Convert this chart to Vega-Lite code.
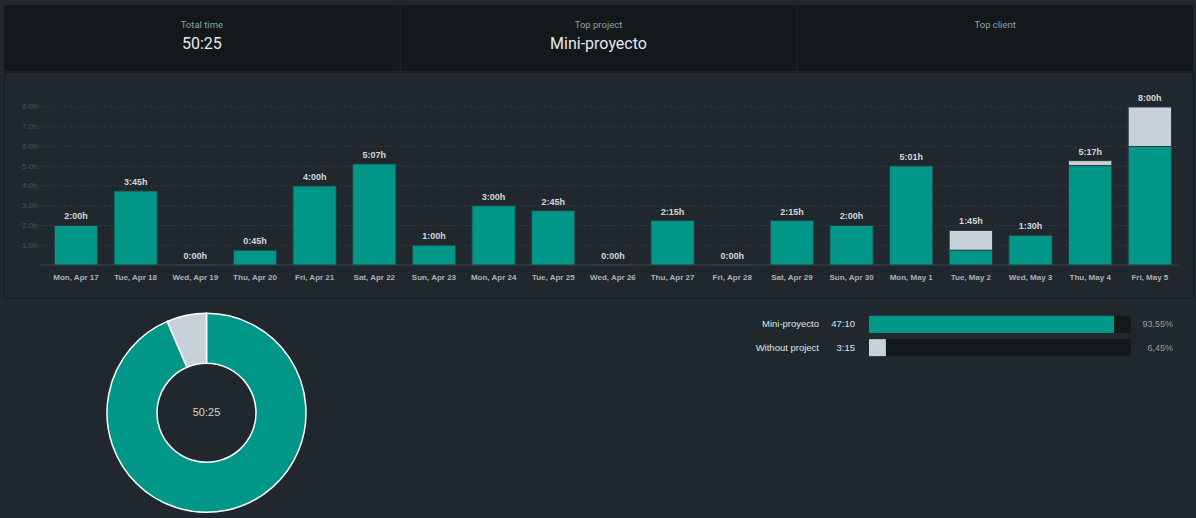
{
  "$schema": "https://vega.github.io/schema/vega-lite/v6.json",
  "background": "#21282d",
  "padding": {"left": 3, "top": 5, "right": 4, "bottom": 0},
  "bounds": "flush",
  "spacing": 1,
  "config": {"view": {"stroke": null}, "font": "Liberation Sans"},
  "datasets": {
    "daily": [
      {"day": "Mon, Apr 17", "project": "Mini-proyecto", "hours": 2.0},
      {"day": "Tue, Apr 18", "project": "Mini-proyecto", "hours": 3.75},
      {"day": "Wed, Apr 19", "project": "Mini-proyecto", "hours": 0},
      {"day": "Thu, Apr 20", "project": "Mini-proyecto", "hours": 0.75},
      {"day": "Fri, Apr 21", "project": "Mini-proyecto", "hours": 4.0},
      {"day": "Sat, Apr 22", "project": "Mini-proyecto", "hours": 5.1167},
      {"day": "Sun, Apr 23", "project": "Mini-proyecto", "hours": 1.0},
      {"day": "Mon, Apr 24", "project": "Mini-proyecto", "hours": 3.0},
      {"day": "Tue, Apr 25", "project": "Mini-proyecto", "hours": 2.75},
      {"day": "Wed, Apr 26", "project": "Mini-proyecto", "hours": 0},
      {"day": "Thu, Apr 27", "project": "Mini-proyecto", "hours": 2.25},
      {"day": "Fri, Apr 28", "project": "Mini-proyecto", "hours": 0},
      {"day": "Sat, Apr 29", "project": "Mini-proyecto", "hours": 2.25},
      {"day": "Sun, Apr 30", "project": "Mini-proyecto", "hours": 2.0},
      {"day": "Mon, May 1", "project": "Mini-proyecto", "hours": 5.0167},
      {"day": "Tue, May 2", "project": "Mini-proyecto", "hours": 0.75},
      {"day": "Tue, May 2", "project": "Without project", "hours": 1.0},
      {"day": "Wed, May 3", "project": "Mini-proyecto", "hours": 1.5},
      {"day": "Thu, May 4", "project": "Mini-proyecto", "hours": 5.0333},
      {"day": "Thu, May 4", "project": "Without project", "hours": 0.25},
      {"day": "Fri, May 5", "project": "Mini-proyecto", "hours": 6.0},
      {"day": "Fri, May 5", "project": "Without project", "hours": 2.0}
    ],
    "totals": [
      {"day": "Mon, Apr 17", "hours": 2.0, "label": "2:00h"},
      {"day": "Tue, Apr 18", "hours": 3.75, "label": "3:45h"},
      {"day": "Wed, Apr 19", "hours": 0, "label": "0:00h"},
      {"day": "Thu, Apr 20", "hours": 0.75, "label": "0:45h"},
      {"day": "Fri, Apr 21", "hours": 4.0, "label": "4:00h"},
      {"day": "Sat, Apr 22", "hours": 5.1167, "label": "5:07h"},
      {"day": "Sun, Apr 23", "hours": 1.0, "label": "1:00h"},
      {"day": "Mon, Apr 24", "hours": 3.0, "label": "3:00h"},
      {"day": "Tue, Apr 25", "hours": 2.75, "label": "2:45h"},
      {"day": "Wed, Apr 26", "hours": 0, "label": "0:00h"},
      {"day": "Thu, Apr 27", "hours": 2.25, "label": "2:15h"},
      {"day": "Fri, Apr 28", "hours": 0, "label": "0:00h"},
      {"day": "Sat, Apr 29", "hours": 2.25, "label": "2:15h"},
      {"day": "Sun, Apr 30", "hours": 2.0, "label": "2:00h"},
      {"day": "Mon, May 1", "hours": 5.0167, "label": "5:01h"},
      {"day": "Tue, May 2", "hours": 1.75, "label": "1:45h"},
      {"day": "Wed, May 3", "hours": 1.5, "label": "1:30h"},
      {"day": "Thu, May 4", "hours": 5.2833, "label": "5:17h"},
      {"day": "Fri, May 5", "hours": 8.0, "label": "8:00h"}
    ],
    "gridlines": [
      {"hours": 1}, {"hours": 2}, {"hours": 3}, {"hours": 4},
      {"hours": 5}, {"hours": 6}, {"hours": 7}, {"hours": 8}
    ],
    "projects": [
      {"project": "Mini-proyecto", "hours": 47.1667, "time": "47:10", "pct": 93.55, "pct_label": "93,55%"},
      {"project": "Without project", "hours": 3.25, "time": "3:15", "pct": 6.45, "pct_label": "6,45%"}
    ],
    "summary": [
      {"panel": "Total time", "value": "50:25"},
      {"panel": "Top project", "value": "Mini-proyecto"},
      {"panel": "Top client", "value": ""}
    ]
  },
  "vconcat": [
    {
      "width": 1189, "height": 66,
      "data": {"name": "summary"},
      "encoding": {
        "x": {"field": "panel", "type": "nominal", "sort": null, "axis": null, "scale": {"paddingInner": 0.00252, "paddingOuter": 0}}
      },
      "layer": [
        {"mark": {"type": "bar", "color": "#13181b"}},
        {"mark": {"type": "text", "dy": -13, "fontSize": 9.5, "color": "#8da2ac", "font": "Roboto"}, "encoding": {"text": {"field": "panel"}}},
        {"mark": {"type": "text", "dy": 5.5, "fontSize": 16, "color": "#e4e9ec", "font": "Roboto"}, "encoding": {"text": {"field": "value"}}}
      ]
    },
    {
      "width": 1189, "height": 226,
      "view": {"fill": null, "stroke": "#161b1e", "strokeWidth": 1},
      "encoding": {
        "x": {
          "field": "day", "type": "nominal", "title": null,
          "scale": {
            "domain": ["Mon, Apr 17", "Tue, Apr 18", "Wed, Apr 19", "Thu, Apr 20", "Fri, Apr 21", "Sat, Apr 22", "Sun, Apr 23", "Mon, Apr 24", "Tue, Apr 25", "Wed, Apr 26", "Thu, Apr 27", "Fri, Apr 28", "Sat, Apr 29", "Sun, Apr 30", "Mon, May 1", "Tue, May 2", "Wed, May 3", "Thu, May 4", "Fri, May 5"],
            "range": [50.35, 1167.5], "paddingInner": 0.274, "paddingOuter": 0
          },
          "axis": {"orient": "bottom", "offset": -33, "domain": false, "ticks": false, "labelPadding": 8, "labelAngle": 0, "labelFontSize": 8, "labelFontWeight": "bold", "labelColor": "#aab2b7", "labelFont": "Liberation Sans"}
        },
        "y": {
          "field": "hours", "type": "quantitative", "title": null,
          "scale": {"domain": [-1.671, 9.772], "nice": false, "zero": false},
          "axis": {"orient": "left", "offset": -35, "values": [1, 2, 3, 4, 5, 6, 7, 8], "labelExpr": "format(datum.value, '.1f') + 'h'", "domain": false, "ticks": false, "grid": false, "labelPadding": 2, "labelFontSize": 8, "labelColor": "#4a555b", "labelFont": "Liberation Sans"}
        }
      },
      "layer": [
        {
          "data": {"name": "gridlines"},
          "mark": {"type": "rule", "color": "#2e393f", "strokeDash": [3, 2], "strokeWidth": 1},
          "encoding": {
            "x": {"datum": "Mon, Apr 17", "bandPosition": -0.3545},
            "x2": {"datum": "Fri, May 5", "bandPosition": 1.173}
          }
        },
        {
          "data": {"values": [{"hours": 0}]},
          "mark": {"type": "rule", "color": "#39454c", "strokeWidth": 1},
          "encoding": {
            "x": {"datum": "Mon, Apr 17", "bandPosition": -0.3545},
            "x2": {"datum": "Fri, May 5", "bandPosition": 1.173}
          }
        },
        {
          "data": {"name": "daily"},
          "mark": {"type": "bar", "stroke": "#2c3a40", "strokeWidth": 1},
          "encoding": {
            "color": {"field": "project", "type": "nominal", "legend": null, "scale": {"domain": ["Mini-proyecto", "Without project"], "range": ["#009688", "#c6d1d9"]}},
            "order": {"field": "project", "type": "ordinal", "sort": "ascending"}
          }
        },
        {
          "data": {"name": "totals"},
          "mark": {"type": "text", "dy": -9, "fontSize": 9, "fontWeight": "bold", "color": "#d2d8db", "font": "Liberation Sans"},
          "encoding": {"text": {"field": "label"}}
        }
      ]
    },
    {
      "hconcat": [
        {
          "width": 405, "height": 219,
          "layer": [
            {
              "data": {"name": "projects"},
              "mark": {"type": "arc", "outerRadius": 99.5, "innerRadius": 49.5, "stroke": "#ffffff", "strokeWidth": 1.5, "yOffset": 4.3},
              "encoding": {
                "theta": {"field": "hours", "type": "quantitative", "stack": true},
                "color": {"field": "project", "type": "nominal", "legend": null, "scale": {"domain": ["Mini-proyecto", "Without project"], "range": ["#009688", "#c6d1d9"]}}
              }
            },
            {
              "data": {"values": [{"total": "50:25"}]},
              "mark": {"type": "text", "fontSize": 11, "color": "#cdd4d8", "dy": 4.3},
              "encoding": {"text": {"field": "total"}}
            }
          ]
        },
        {
          "width": 262, "height": 74,
          "data": {"name": "projects"},
          "encoding": {
            "y": {"field": "project", "type": "nominal", "axis": null, "title": null, "scale": {"paddingInner": 0.267, "paddingOuter": 0.724}}
          },
          "layer": [
            {
              "mark": {"type": "bar", "color": "#13181b"},
              "encoding": {
                "x": {"datum": 0, "type": "quantitative", "scale": {"domain": [0, 100]}, "axis": null},
                "x2": {"datum": 100}
              }
            },
            {
              "mark": {"type": "bar"},
              "encoding": {
                "x": {"field": "pct", "type": "quantitative", "scale": {"domain": [0, 100]}, "axis": null},
                "color": {"field": "project", "type": "nominal", "legend": null, "scale": {"domain": ["Mini-proyecto", "Without project"], "range": ["#009688", "#c6d1d9"]}}
              }
            },
            {
              "mark": {"type": "text", "align": "right", "dx": -50, "fontSize": 9.5, "color": "#dfe4e6"},
              "encoding": {"x": {"datum": 0, "type": "quantitative", "axis": null}, "text": {"field": "project"}}
            },
            {
              "mark": {"type": "text", "align": "right", "dx": -14, "fontSize": 9.5, "color": "#dfe4e6"},
              "encoding": {"x": {"datum": 0, "type": "quantitative", "axis": null}, "text": {"field": "time"}}
            },
            {
              "mark": {"type": "text", "align": "right", "dx": 42, "fontSize": 9, "color": "#8ea4ae"},
              "encoding": {"x": {"datum": 100, "type": "quantitative", "axis": null}, "text": {"field": "pct_label"}}
            }
          ]
        }
      ],
      "spacing": 460,
      "bounds": "flush"
    }
  ]
}
